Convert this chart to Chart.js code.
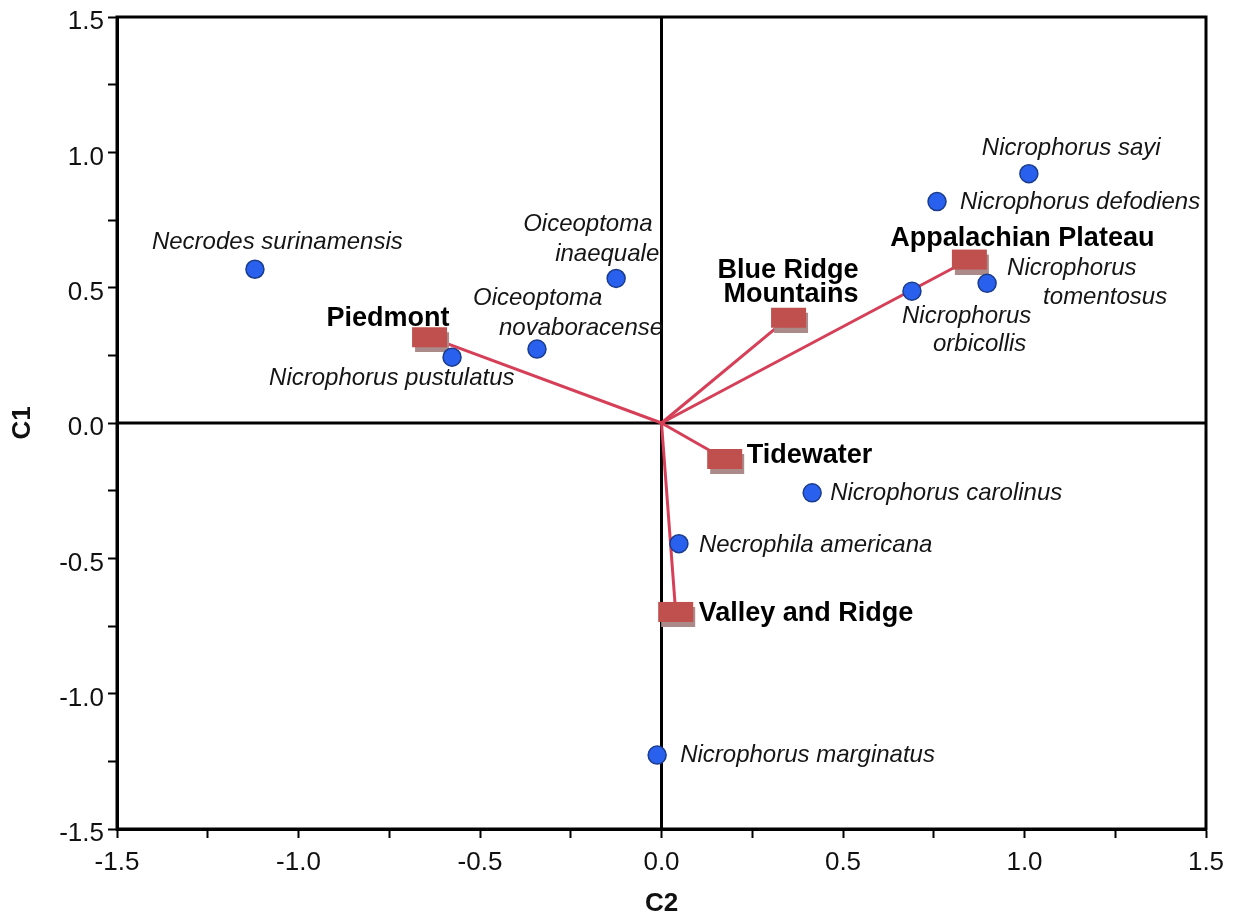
<!DOCTYPE html>
<html lang="en">
<head>
    <meta charset="UTF-8">
    <title>CCA biplot C1 / C2</title>
    <script src="https://cdn.jsdelivr.net/npm/chart.js"></script>
    <style>
        body { margin: 0; background: #fff; }
        #wrap { width: 1237px; height: 919px; }
    </style>
</head>
<body>
    <div id="wrap"><canvas id="ccaChart"></canvas></div>

    <script>
        // species scores
        const speciesNames = [
            "Necrodes surinamensis", "Oiceoptoma\ninaequale", "Oiceoptoma\nnovaboracense",
            "Nicrophorus pustulatus", "Nicrophorus sayi", "Nicrophorus defodiens",
            "Nicrophorus\ntomentosus", "Nicrophorus\norbicollis", "Nicrophorus carolinus",
            "Necrophila americana", "Nicrophorus marginatus"
        ];
        const speciesC2 = [-1.120, -0.125, -0.343, -0.577, 1.012, 0.759, 0.897, 0.690, 0.415, 0.048, -0.012];
        const speciesC1 = [0.568, 0.534, 0.273, 0.243, 0.921, 0.818, 0.516, 0.487, -0.258, -0.446, -1.227];

        // region (environment) scores
        const regionNames = ["Piedmont", "Blue Ridge\nMountains", "Appalachian Plateau", "Tidewater", "Valley and Ridge"];
        const regionC2 = [-0.639, 0.350, 0.848, 0.174, 0.039];
        const regionC1 = [0.317, 0.389, 0.604, -0.133, -0.698];

        const axisTicks = [-1.5, -1.0, -0.5, 0.0, 0.5, 1.0, 1.5];

        // label placement, pixel offsets from the mark (one entry per text line)
        const speciesLabelPos = [
            [[-103, -27]], [[-93, -54], [-61, -24]], [[-64, -51], [-38, -21]],
            [[-183, 21]], [[-47, -25]], [[23, 1]],
            [[20, -15], [56, 14]], [[-10, 25], [21, 53]], [[18, 0]],
            [[20, 2]], [[23, 0]]
        ];
        const regionLabelPos = [
            [[-103, -19, "left"]], [[70, -47, "right"], [70, -23, "right"]],
            [[-79, -21, "left"]], [[22, -3, "left"]], [[23, 2, "left"]]
        ];

        // red box with grey drop shadow used as point style
        function makeBox() {
            let c = document.createElement("canvas");
            c.width = 43; c.height = 30;
            let g = c.getContext("2d");
            g.fillStyle = "#ab8a8a";
            g.fillRect(7, 10, 34, 20);
            g.fillStyle = "#c0504d";
            g.fillRect(4, 5, 35, 20);
            return c;
        }
        const boxImg = makeBox();

        const arrowSets = regionNames.map((n, i) => ({
            label: n,
            data: [{ x: 0, y: 0 }, { x: regionC2[i], y: regionC1[i] }],
            showLine: true,
            borderColor: "#d63f58",
            borderWidth: 3,
            pointRadius: 0,
            order: 3
        }));

        const zeroLines = {
            id: "zeroLines",
            beforeDatasetsDraw(chart) {
                let { ctx, chartArea: a, scales: { x, y } } = chart;
                ctx.save();
                ctx.strokeStyle = "#000";
                ctx.lineWidth = 3;
                ctx.beginPath();
                ctx.moveTo(x.getPixelForValue(0), a.top);
                ctx.lineTo(x.getPixelForValue(0), a.bottom);
                ctx.moveTo(a.left, y.getPixelForValue(0));
                ctx.lineTo(a.right, y.getPixelForValue(0));
                ctx.stroke();
                ctx.strokeRect(a.left, a.top, a.right - a.left, a.bottom - a.top);
                ctx.restore();
            }
        };

        const labels = {
            id: "labels",
            afterDatasetsDraw(chart) {
                let { ctx, scales: { x, y } } = chart;
                ctx.save();
                ctx.textBaseline = "middle";
                ctx.fillStyle = "#151515";
                ctx.font = "italic 24px 'Liberation Sans', Arial, sans-serif";
                ctx.textAlign = "left";
                speciesNames.forEach((name, i) => {
                    let px = x.getPixelForValue(speciesC2[i]);
                    let py = y.getPixelForValue(speciesC1[i]);
                    name.split("\n").forEach((line, k) => {
                        let p = speciesLabelPos[i][k];
                        ctx.fillText(line, px + p[0], py + p[1]);
                    });
                });
                ctx.fillStyle = "#000";
                ctx.font = "bold 27px 'Liberation Sans', Arial, sans-serif";
                regionNames.forEach((name, i) => {
                    let px = x.getPixelForValue(regionC2[i]);
                    let py = y.getPixelForValue(regionC1[i]);
                    name.split("\n").forEach((line, k) => {
                        let p = regionLabelPos[i][k];
                        ctx.textAlign = p[2];
                        ctx.fillText(line, px + p[0], py + p[1]);
                    });
                });
                ctx.restore();
            }
        };

        const tickLabel = v => axisTicks.some(t => Math.abs(t - v) < 1e-6) ? v.toFixed(1) : "";

        const axisFont = { family: "'Liberation Sans', Arial, sans-serif", size: 26, lineHeight: 1 };

        new Chart(document.getElementById("ccaChart"), {
            type: "scatter",
            data: {
                datasets: [
                    ...arrowSets,
                    {
                        label: "regions",
                        data: regionC2.map((v, i) => ({ x: v, y: regionC1[i] })),
                        pointStyle: boxImg,
                        order: 2
                    },
                    {
                        label: "species",
                        data: speciesC2.map((v, i) => ({ x: v, y: speciesC1[i] })),
                        pointRadius: 9,
                        pointBackgroundColor: "#2a60ee",
                        pointBorderColor: "#1a3c8c",
                        pointBorderWidth: 1.5,
                        order: 1
                    }
                ]
            },
            options: {
                responsive: true,
                maintainAspectRatio: false,
                animation: false,
                layout: { padding: { top: 15, right: 31, left: 0, bottom: 0 } },
                plugins: { legend: { display: false }, tooltip: { enabled: false } },
                scales: {
                    x: {
                        type: "linear",
                        min: -1.5, max: 1.5,
                        afterFit: s => { s.height = 90; },
                        border: { display: true, color: "#000", width: 3 },
                        grid: { drawOnChartArea: false, drawTicks: true, tickLength: 9, tickColor: "#000", tickWidth: 2 },
                        ticks: { stepSize: 0.25, autoSkip: false, maxRotation: 0, color: "#111", font: axisFont, padding: 12, callback: tickLabel },
                        title: { display: true, text: "C2", color: "#111", font: { family: axisFont.family, size: 26, weight: "bold" }, padding: { top: 0, bottom: 0 } }
                    },
                    y: {
                        type: "linear",
                        min: -1.5, max: 1.5,
                        afterFit: s => { s.width = 117; },
                        border: { display: true, color: "#000", width: 3 },
                        grid: { drawOnChartArea: false, drawTicks: true, tickLength: 9, tickColor: "#000", tickWidth: 2 },
                        ticks: { stepSize: 0.25, autoSkip: false, color: "#111", font: axisFont, padding: 4, labelOffset: 5, callback: tickLabel },
                        title: { display: true, text: "C1", color: "#111", font: { family: axisFont.family, size: 26, weight: "bold" }, padding: { top: 7, bottom: 0 } }
                    }
                }
            },
            plugins: [zeroLines, labels]
        });
    </script>
</body>
</html>
